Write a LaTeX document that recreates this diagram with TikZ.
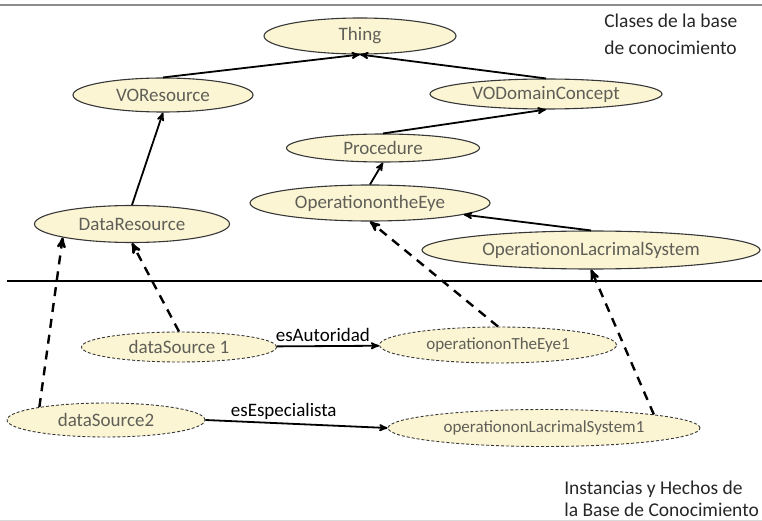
\documentclass[tikz,border=0pt]{standalone}
\usepackage{fontspec}
\setmainfont{Carlito}
\usepackage{tikz}
\usetikzlibrary{arrows,shapes}

\definecolor{nodefill}{RGB}{251,245,212}
\definecolor{nodetext}{RGB}{95,95,88}
\definecolor{nodeline}{RGB}{55,55,55}

\tikzset{
  cls/.style={ellipse, draw=nodeline, fill=nodefill, text=nodetext, line width=1.1pt,
    inner sep=0pt, font=\fontsize{19}{22}\selectfont},
  inst/.style={cls, dash pattern=on 3pt off 2pt, line width=0.9pt},
  isa/.style={line width=1.8pt},
  typeof/.style={line width=2.4pt, dash pattern=on 9pt off 7pt},
  note/.style={align=left, inner sep=0pt, text=black!85, anchor=north west}
}

\begin{document}
\begin{tikzpicture}[x=1pt, y=1pt, ->, >=stealth', auto, semithick]
\useasboundingbox (0,0) rectangle (762,-521);
\draw[-, line width=2pt, black!45] (0,-5) -- (762,-5);
\draw[-, line width=1pt, black!15] (0,-520) -- (762,-520);
\draw[-, line width=2pt] (7,-281) -- (762,-281);

% classes
\node[cls, minimum width=192pt, minimum height=36pt] (thing) at (360,-36) {Thing};
\node[cls, minimum width=180pt, minimum height=34pt] (vores) [below of=thing, node distance=59pt, xshift=-197pt] {VOResource};
\node[cls, minimum width=232pt, minimum height=30pt] (vodc) [below of=thing, node distance=58pt, xshift=186pt] {VODomainConcept};
\node[cls, minimum width=193pt, minimum height=28pt] (proc) [below of=vodc, node distance=54pt, xshift=-163pt] {Procedure};
\node[cls, minimum width=240pt, minimum height=36pt] (oe) [below of=proc, node distance=55pt, xshift=-13pt] {OperationontheEye};
\node[cls, minimum width=195pt, minimum height=37pt] (dr) [below of=vores, node distance=129pt, xshift=-31pt] {DataResource};
\node[cls, minimum width=338pt, minimum height=38pt] (ols) [below of=oe, node distance=47pt, xshift=221pt] {OperationonLacrimalSystem};

% instances
\node[inst, minimum width=195pt, minimum height=30pt] (ds1) [below of=dr, node distance=123pt, xshift=47pt] {dataSource 1};
\node[inst, minimum width=237pt, minimum height=36pt, font=\fontsize{17}{20}\selectfont] (oe1) [right of=ds1, node distance=319pt, yshift=2pt] {operationonTheEye1};
\node[inst, minimum width=198pt, minimum height=34pt] (ds2) [below of=ds1, node distance=73pt, xshift=-73pt] {dataSource2};
\node[inst, minimum width=312pt, minimum height=37pt, font=\fontsize{17}{20}\selectfont] (ols1) [right of=ds2, node distance=438pt, yshift=-8pt] {operationonLacrimalSystem1};

\node[note, font=\fontsize{19.5}{27}\selectfont] (upper) at (604,-14) {Clases de la base\\de conocimiento};
\node[note, font=\fontsize{19.5}{22}\selectfont] (lower) at (564,-481) {Instancias y Hechos de\\la Base de Conocimiento};

\tikzstyle{every node}=[font=\fontsize{19}{22}\selectfont]
\path
(vores.north) edge [isa] (thing.south)
(vodc.north) edge [isa] (thing.south)
(dr.north) edge [isa] (vores.south)
(proc.north) edge [isa] (vodc.south)
(oe.north) edge [isa] (proc.south)
(ols.north) edge [isa] (oe)

(ds2.169) edge [typeof] (dr.191)
(ds1.north) edge [typeof] (dr.south)
(oe1.north) edge [typeof] (oe.south)
(ols1.7) edge [typeof] (ols.south)

(ds1) edge [isa] node [pos=0.45] {esAutoridad} (oe1)
(ds2.east) edge [isa] node [pos=0.43] {esEspecialista} (ols1.west);
\end{tikzpicture}
\end{document}
